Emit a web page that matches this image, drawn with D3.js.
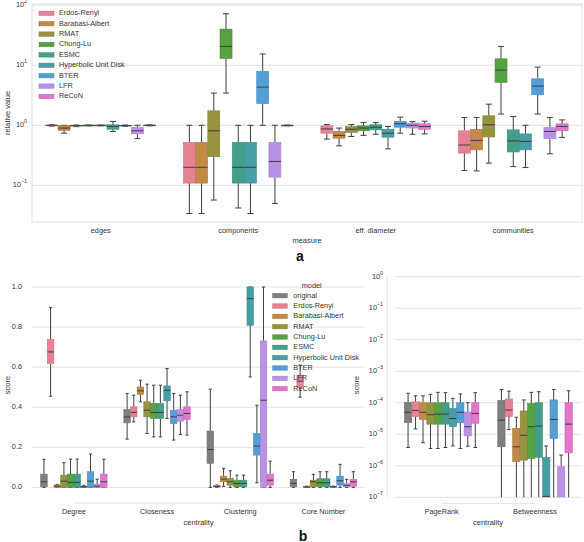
<!DOCTYPE html>
<html><head><meta charset="utf-8">
<script src="https://cdn.jsdelivr.net/npm/d3@7"></script>
<style>
body{margin:0;background:#fff}
text{font-family:"Liberation Sans",Arial,sans-serif;fill:#333}
</style>
</head><body>
<svg id="c" width="584" height="542"></svg>
<script>
// ---------------- DATA ----------------
const topMeasures = ["edges", "components", "eff. diameter", "communities"];
const topModels = ["Erdos-Renyi", "Barabasi-Albert", "RMAT", "Chung-Lu", "ESMC", "Hyperbolic Unit Disk", "BTER", "LFR", "ReCoN"];
const topPalette = ["#f77189", "#d58c32", "#a4a031", "#50b131", "#34ae91", "#37abb5", "#3ba3ec", "#bb83f4", "#f564d4"];
// each entry: [lower whisker, q1, median, q3, upper whisker] per model
const edgesStats = [[0.97,0.985,1.0,1.01,1.02],[0.74,0.82,0.90,0.99,1.0],[0.95,0.97,0.99,1.0,1.01],[0.98,0.99,1.0,1.005,1.01],[0.98,0.99,1.0,1.005,1.01],[0.79,0.86,0.96,1.02,1.16],[0.96,0.98,0.99,1.0,1.01],[0.60,0.72,0.81,0.92,1.0],[0.98,0.99,1.0,1.01,1.02]];
const componentsStats = [[0.034,0.109,0.20,0.52,1.0],[0.034,0.109,0.20,0.52,1.0],[0.057,0.30,0.81,1.74,3.44],[3.44,13,20.6,40,72],[0.042,0.109,0.20,0.52,1.0],[0.034,0.109,0.20,0.52,1.0],[1.0,2.3,4.33,7.9,15.4],[0.050,0.137,0.25,0.52,1.0],[0.98,0.99,1.0,1.0,1.01]];
const diameterStats = [[0.59,0.74,0.87,0.98,1.03],[0.455,0.61,0.68,0.79,0.90],[0.65,0.76,0.86,0.955,1.03],[0.68,0.81,0.90,0.98,1.11],[0.71,0.84,0.93,1.02,1.11],[0.405,0.635,0.74,0.86,0.955],[0.74,0.93,1.06,1.16,1.37],[0.71,0.90,1.0,1.09,1.16],[0.72,0.86,0.955,1.06,1.17]];
const communitiesStats = [[0.177,0.344,0.47,0.81,1.35],[0.174,0.39,0.56,0.86,1.35],[0.235,0.64,1.02,1.44,2.25],[1.54,5.2,8.3,12.8,20.6],[0.205,0.36,0.55,0.84,1.40],[0.198,0.39,0.54,0.72,1.0],[1.54,3.22,4.5,5.95,9.3],[0.335,0.60,0.79,0.92,1.35],[0.63,0.81,0.955,1.06,1.23]];
const topTicks = [0.1, 1, 10, 100];
const topTickLabels = [["10","\u22121"],["10","0"],["10","1"],["10","2"]];

const botModels = ["original", "Erdos-Renyi", "Barabasi-Albert", "RMAT", "Chung-Lu", "ESMC", "Hyperbolic Unit Disk", "BTER", "LFR", "ReCoN"];
const botPalette = ["#7f7f7f", "#f77189", "#d58c32", "#a4a031", "#50b131", "#34ae91", "#37abb5", "#3ba3ec", "#bb83f4", "#f564d4"];
const leftCentralities = ["Degree", "Closeness", "Clustering", "Core Number"];
const degreeStats = [[0,0.003,0.028,0.066,0.14],[0.455,0.618,0.676,0.738,0.897],[0,0,0.006,0.012,0.015],[0,0,0.031,0.061,0.123],[0,0,0.025,0.066,0.141],[0,0,0.025,0.066,0.141],[0,0,0.003,0.006,0.01],[0,0,0.031,0.078,0.166],[0,0,0.006,0.016,0.041],[0,0,0.028,0.066,0.14]];
const closenessStats = [[0.241,0.322,0.352,0.389,0.469],[0.327,0.352,0.374,0.402,0.46],[0.427,0.464,0.482,0.501,0.535],[0.269,0.352,0.385,0.427,0.515],[0.252,0.344,0.374,0.419,0.51],[0.252,0.344,0.374,0.419,0.51],[0.344,0.432,0.485,0.506,0.593],[0.236,0.319,0.352,0.385,0.469],[0.264,0.33,0.36,0.389,0.46],[0.261,0.339,0.369,0.402,0.477]];
const clusteringStats = [[0,0.12,0.189,0.281,0.49],[0,0.002,0.005,0.01,0.012],[0.005,0.028,0.041,0.056,0.095],[0,0.011,0.028,0.045,0.083],[0,0.003,0.02,0.036,0.061],[0,0.003,0.02,0.036,0.061],[0.551,0.809,0.942,1.0,1.0],[0.023,0.161,0.206,0.269,0.41],[0,0,0.435,0.731,1.0],[0,0.011,0.036,0.066,0.131]];
const coreStats = [[0,0.003,0.02,0.04,0.078],[0.45,0.50,0.53,0.56,0.61],[0,0,0.002,0.005,0.006],[0,0.003,0.028,0.036,0.065],[0,0.003,0.023,0.043,0.078],[0,0.003,0.023,0.043,0.078],[0,0,0.003,0.005,0.006],[0,0.011,0.033,0.056,0.115],[0,0.003,0.01,0.02,0.04],[0,0.006,0.028,0.04,0.078]];
const leftTicks = [0.0, 0.2, 0.4, 0.6, 0.8, 1.0];

const rightCentralities = ["PageRank", "Betweenness"];
const pagerankStats = [[3.8e-6,2.34e-5,5.0e-5,1.02e-4,2.0e-4],[1.48e-5,3.63e-5,5.75e-5,1.07e-4,1.66e-4],[5.4e-6,2.95e-5,5.0e-5,1.0e-4,1.66e-4],[3.55e-6,2.09e-5,4.17e-5,1.0e-4,1.86e-4],[3.55e-6,2.09e-5,4.37e-5,1.0e-4,2.14e-4],[3.8e-6,2.09e-5,4.37e-5,1.0e-4,2.09e-4],[4.27e-6,1.74e-5,3.16e-5,6.6e-5,1.38e-4],[3.55e-6,2.34e-5,5.0e-5,1.0e-4,1.9e-4],[4.2e-6,8.9e-6,1.74e-5,5.1e-5,1.0e-4],[3.8e-6,2.24e-5,4.57e-5,1.0e-4,2.09e-4]];
const betweennessStats = [[1e-8,4.0e-6,2.8e-5,1.2e-4,2.63e-4],[1.41e-5,3.63e-5,5.9e-5,1.32e-4,2.34e-4],[1e-8,1.35e-6,4.0e-6,1.55e-5,3.47e-5],[1e-8,1.51e-6,9.3e-6,5.5e-5,1.23e-4],[1e-8,1.7e-6,1.74e-5,9.5e-5,2.14e-4],[1e-8,1.86e-6,1.82e-5,1.0e-4,2.24e-4],[1e-8,1e-8,1.07e-7,1.86e-6,4.27e-6],[1e-8,7.4e-6,2.95e-5,1.23e-4,2.63e-4],[1e-8,1e-8,1e-8,9.3e-7,2.19e-6],[1e-8,2.57e-6,2.1e-5,1.0e-4,2.4e-4]];
const rightTicks = [1, 1e-1, 1e-2, 1e-3, 1e-4, 1e-5, 1e-6, 1e-7];
const rightTickExps = ["0","\u22121","\u22122","\u22123","\u22124","\u22125","\u22126","\u22127"];

// ---------------- HELPERS ----------------
const svg = d3.select("#c");
const GRID = "#e2e2e2", LINE = "#3f3f3f";
function desat(c){ const h = d3.hsl(c); h.s *= 0.75; return h.formatHex(); }
const topColors = topPalette.map(desat);
const botColors = botPalette.map(desat);

function drawBoxes(g, x, xh, y, cats, statsList, models, colors){
  cats.forEach((cat, ci) => {
    statsList[ci].forEach((s, mi) => {
      const w = xh.bandwidth() * 0.98;
      const cx = x(cat) + xh(models[mi]) + xh.bandwidth()/2;
      const [lo, q1, med, q3, hi] = s;
      const gg = g.append("g");
      gg.append("line").attr("x1",cx).attr("x2",cx).attr("y1",y(hi)).attr("y2",y(q3)).attr("stroke",LINE).attr("stroke-width",1);
      gg.append("line").attr("x1",cx).attr("x2",cx).attr("y1",y(q1)).attr("y2",y(lo)).attr("stroke",LINE).attr("stroke-width",1);
      gg.append("line").attr("x1",cx-w/4).attr("x2",cx+w/4).attr("y1",y(hi)).attr("y2",y(hi)).attr("stroke",LINE).attr("stroke-width",1);
      gg.append("line").attr("x1",cx-w/4).attr("x2",cx+w/4).attr("y1",y(lo)).attr("y2",y(lo)).attr("stroke",LINE).attr("stroke-width",1);
      const top = y(q3), bot = y(q1);
      gg.append("rect").attr("x",cx-w/2).attr("y",Math.min(top,bot)).attr("width",w)
        .attr("height",Math.max(0.8,Math.abs(bot-top)))
        .attr("fill",colors[mi]).attr("stroke",d3.color(colors[mi]).darker(0.35)).attr("stroke-width",0.6);
      gg.append("line").attr("x1",cx-w/2).attr("x2",cx+w/2).attr("y1",y(med)).attr("y2",y(med)).attr("stroke",LINE).attr("stroke-width",1);
    });
  });
}
function logLabel(g, xp, yp, base, exp, anchor){
  const t = g.append("text").attr("x",xp).attr("y",yp).attr("text-anchor",anchor||"end").attr("font-size",7.3).attr("dominant-baseline","middle");
  t.append("tspan").text(base);
  t.append("tspan").attr("dy",-3).attr("font-size",5.3).text(exp);
}

// ---------------- PANEL A ----------------
const xA = d3.scaleBand().domain(topMeasures).range([32, 582]);
const xAh = d3.scaleBand().domain(topModels).range([xA.bandwidth()*0.1, xA.bandwidth()*0.9]);
const yA = d3.scaleLog().domain([Math.pow(10,-1.61), Math.pow(10,2.02)]).range([222, 4]);
const gA = svg.append("g");
gA.append("rect").attr("x",32).attr("y",4).attr("width",550).attr("height",218).attr("fill","none").attr("stroke",GRID);
topTicks.forEach((t,i) => {
  gA.append("line").attr("x1",32).attr("x2",582).attr("y1",yA(t)).attr("y2",yA(t)).attr("stroke",GRID);
  logLabel(gA, 27, yA(t), topTickLabels[i][0], topTickLabels[i][1]);
});
drawBoxes(gA, xA, xAh, yA, topMeasures, [edgesStats, componentsStats, diameterStats, communitiesStats], topModels, topColors);
topMeasures.forEach(m => gA.append("text").attr("x",xA(m)+xA.bandwidth()/2).attr("y",233).attr("text-anchor","middle").attr("font-size",7.3).text(m));
gA.append("text").attr("x",307).attr("y",243).attr("text-anchor","middle").attr("font-size",7.5).text("measure");
gA.append("text").attr("transform","translate(10,113) rotate(-90)").attr("text-anchor","middle").attr("font-size",7.5).text("relative value");
const legA = gA.append("g");
topModels.forEach((m,i) => {
  const yy = 13.3 + 10.4*i;
  legA.append("rect").attr("x",39).attr("y",yy-2.2).attr("width",15).attr("height",4.4).attr("fill",topColors[i]).attr("stroke",d3.color(topColors[i]).darker(0.5)).attr("stroke-width",0.5);
  legA.append("text").attr("x",59).attr("y",yy).attr("dominant-baseline","middle").attr("font-size",7.3).text(m);
});
svg.append("text").attr("x",300).attr("y",260.5).attr("text-anchor","middle").attr("font-size",14).attr("font-weight","bold").style("fill","#111").text("a");

// ---------------- PANEL B LEFT ----------------
const xL = d3.scaleBand().domain(leftCentralities).range([32.3, 365]);
const xLh = d3.scaleBand().domain(botModels).range([xL.bandwidth()*0.1, xL.bandwidth()*0.9]);
const yL = d3.scaleLinear().domain([-0.078, 1.025]).range([503, 282]);
const gL = svg.append("g");
leftTicks.forEach(t => {
  gL.append("line").attr("x1",32.3).attr("x2",365).attr("y1",yL(t)).attr("y2",yL(t)).attr("stroke",GRID);
  gL.append("text").attr("x",22).attr("y",yL(t)).attr("text-anchor","end").attr("dominant-baseline","middle").attr("font-size",7.3).text(t.toFixed(1));
});
gL.append("line").attr("x1",xL("Degree")+xL.bandwidth()/2).attr("x2",xL("Core Number")+xL.bandwidth()/2).attr("y1",503).attr("y2",503).attr("stroke",GRID);
drawBoxes(gL, xL, xLh, yL, leftCentralities, [degreeStats, closenessStats, clusteringStats, coreStats], botModels, botColors);
leftCentralities.forEach(c => gL.append("text").attr("x",xL(c)+xL.bandwidth()/2).attr("y",514).attr("text-anchor","middle").attr("font-size",7.3).text(c));
gL.append("text").attr("x",198.5).attr("y",524.5).attr("text-anchor","middle").attr("font-size",7.5).text("centrality");
gL.append("text").attr("transform","translate(10,385) rotate(-90)").attr("text-anchor","middle").attr("font-size",7.5).text("score");
const legB = gL.append("g");
legB.append("text").attr("x",311.7).attr("y",285.7).attr("text-anchor","middle").attr("dominant-baseline","middle").attr("font-size",7.3).text("model");
botModels.forEach((m,i) => {
  const yy = 295.7 + 10.33*i;
  legB.append("rect").attr("x",272.7).attr("y",yy-2.2).attr("width",14.6).attr("height",4.4).attr("fill",botColors[i]).attr("stroke",d3.color(botColors[i]).darker(0.5)).attr("stroke-width",0.5);
  legB.append("text").attr("x",293.3).attr("y",yy).attr("dominant-baseline","middle").attr("font-size",7.3).text(m);
});

// ---------------- PANEL B RIGHT ----------------
const xR = d3.scaleBand().domain(rightCentralities).range([395, 581.7]);
const xRh = d3.scaleBand().domain(botModels).range([xR.bandwidth()*0.1, xR.bandwidth()*0.9]);
const yR = d3.scaleLog().domain([1e-7, 1]).range([497.3, 276.7]);
const gR = svg.append("g");
svg.append("defs").append("clipPath").attr("id","clipR").append("rect").attr("x",390).attr("y",270).attr("width",194).attr("height",227.3);
rightTicks.forEach((t,i) => {
  gR.append("line").attr("x1",395).attr("x2",581.7).attr("y1",yR(t)).attr("y2",yR(t)).attr("stroke",GRID);
  logLabel(gR, 383, yR(t), "10", rightTickExps[i]);
});
gR.append("line").attr("x1",387.3).attr("x2",387.3).attr("y1",yR(1)).attr("y2",yR(1e-7)).attr("stroke",GRID);
gR.append("line").attr("x1",xR("PageRank")+xR.bandwidth()/2).attr("x2",xR("Betweenness")+xR.bandwidth()/2).attr("y1",503.3).attr("y2",503.3).attr("stroke",GRID);
const gRb = gR.append("g").attr("clip-path","url(#clipR)");
drawBoxes(gRb, xR, xRh, yR, rightCentralities, [pagerankStats, betweennessStats], botModels, botColors);
rightCentralities.forEach(c => gR.append("text").attr("x",xR(c)+xR.bandwidth()/2).attr("y",514).attr("text-anchor","middle").attr("font-size",7.3).text(c));
gR.append("text").attr("x",488).attr("y",524.5).attr("text-anchor","middle").attr("font-size",7.5).text("centrality");
gR.append("text").attr("transform","translate(359,385) rotate(-90)").attr("text-anchor","middle").attr("font-size",7.5).text("score");
svg.append("text").attr("x",303).attr("y",540.5).attr("text-anchor","middle").attr("font-size",14).attr("font-weight","bold").style("fill","#111").text("b");
</script>
</body></html>
